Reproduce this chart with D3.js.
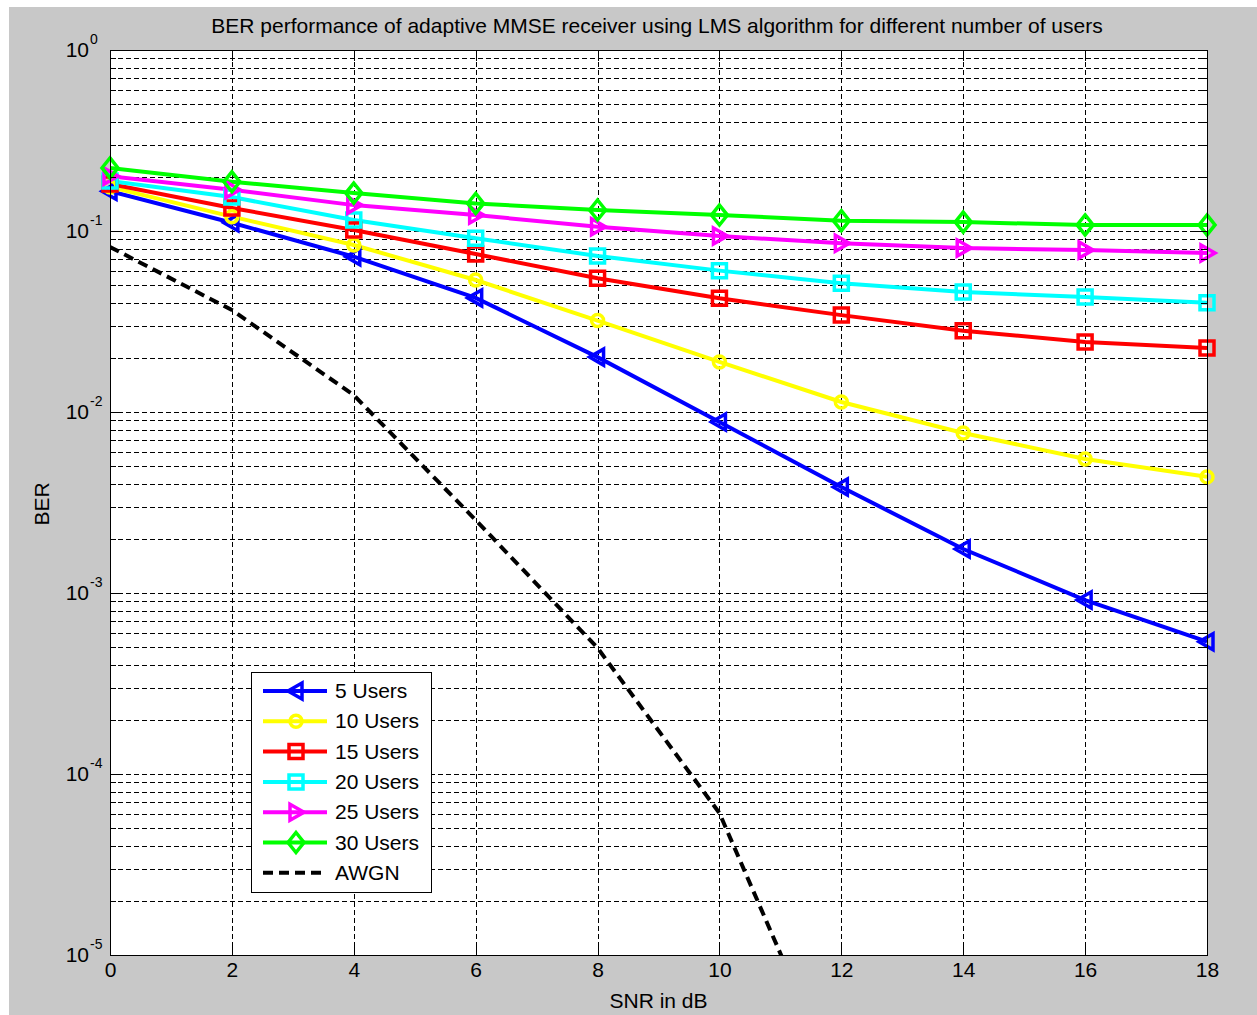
<!DOCTYPE html>
<html>
<head>
<meta charset="utf-8">
<script src="https://cdn.jsdelivr.net/npm/d3@7"></script>
<style>
body { margin:0; background:#ffffff; }
text { font-family:"Liberation Sans", Arial, sans-serif; fill:#000; }
.grid line { stroke:#000; stroke-width:1; stroke-dasharray:5,3; shape-rendering:crispEdges; }
.grid path { display:none; }
.ax path { display:none; }
.ax line { stroke:#000; stroke-width:1; shape-rendering:crispEdges; }
.ax text { font-size:21px; }
</style>
</head>
<body>
<svg></svg>
<script>
// SNR points (dB)
var snr = [0,2,4,6,8,10,12,14,16,18]
var awgnSnr = [0,2,4,6,8,10,12]

// BER
var users5  = [0.166,0.111,0.0721,0.0427,0.0201,0.0088,0.00385,0.00175,0.000914,0.000538]
var users10 = [0.175,0.120,0.0837,0.0536,0.0320,0.0189,0.01136,0.00766,0.0055,0.00438]
var users15 = [0.182,0.134,0.1014,0.0746,0.0548,0.0425,0.0343,0.0281,0.0244,0.0226]
var users20 = [0.189,0.154,0.115,0.0912,0.0728,0.0604,0.0514,0.046,0.0432,0.0402]
var users25 = [0.201,0.169,0.139,0.1225,0.1056,0.0938,0.0855,0.0805,0.0785,0.0756]
var users30 = [0.223,0.187,0.162,0.142,0.1306,0.1225,0.114,0.112,0.108,0.108]
var awgn    = [0.0816,0.0366,0.0124,0.00253,0.000497,0.0000608,0.00000171]

var seriesNames = ["5 Users","10 Users","15 Users","20 Users","25 Users","30 Users","AWGN"]
var xTicks = [0,2,4,6,8,10,12,14,16,18]
var yDecades = [1,0.1,0.01,0.001,0.0001,0.00001]
var yExponents = ["0","-1","-2","-3","-4","-5"]

var titleText = "BER performance of adaptive MMSE receiver using LMS algorithm for different number of users"

// styles kept apart from the data
var colors = ["#0000ff","#ffff00","#ff0000","#00ffff","#ff00ff","#00ff00","#000000"]
var markers = ["tleft","circle","square","square","tright","diamond",null]

var markerPath = function(kind)
{
    if(kind=="square") return "M-7,-7H7V7H-7Z"
    if(kind=="tleft") return "M-8,0L6,-8L6,8Z"
    if(kind=="tright") return "M8,0L-6,-8L-6,8Z"
    if(kind=="diamond") return "M0,-10L8,0L0,10L-8,0Z"
    return null
}

var drawMarker = function(g,kind,color,x,y)
{
    if(kind=="circle")
    {
        g.append("circle")
        .attr("cx",x).attr("cy",y).attr("r",6)
        .attr("fill","none").attr("stroke",color).attr("stroke-width",3.5)
    }
    else
    {
        g.append("path")
        .attr("d",markerPath(kind))
        .attr("transform","translate("+x+","+y+")")
        .attr("fill","none").attr("stroke",color).attr("stroke-width",3.5)
        .attr("stroke-linejoin","miter")
    }
}

var initGraph = function()
{
    var screen = {width:1257,height:1015}
    var plot = {left:110,right:1207,top:50,bottom:955}
    var width = plot.right-plot.left
    var height = plot.bottom-plot.top

    var svg = d3.select("svg")
    .attr("width",screen.width)
    .attr("height",screen.height)

    // figure background
    svg.append("rect")
    .attr("x",9).attr("y",7)
    .attr("width",screen.width-9).attr("height",screen.height-7)
    .attr("fill","#c8c8c8")

    svg.append("rect")
    .attr("x",plot.left).attr("y",plot.top)
    .attr("width",width).attr("height",height)
    .attr("fill","#ffffff")

    var xScale = d3.scaleLinear()
        .domain([0,18])
        .range([plot.left,plot.right])

    var yScale = d3.scaleLog()
        .domain([1e-5,1])
        .range([plot.bottom,plot.top])

    // minor values of the log axis
    var yMinor = []
    for(var e=-5;e<0;e++)
        for(var m=2;m<=9;m++)
            yMinor.push(m*Math.pow(10,e))

    // grid
    svg.append("g")
    .classed("grid",true)
    .attr("transform","translate("+plot.left+",0)")
    .call(d3.axisLeft(yScale).tickValues(yDecades.concat(yMinor)).tickSize(-width).tickFormat(""))

    svg.append("g")
    .classed("grid",true)
    .attr("transform","translate(0,"+plot.bottom+")")
    .call(d3.axisBottom(xScale).tickValues(xTicks).tickSize(-height).tickFormat(""))

    svg.append("clipPath")
    .attr("id","clip")
    .append("rect")
    .attr("x",plot.left).attr("y",plot.top)
    .attr("width",width).attr("height",height)

    var allSeries = [users5,users10,users15,users20,users25,users30,awgn]
    var line = d3.line()

    var lines = svg.append("g").attr("clip-path","url(#clip)")
    allSeries.forEach(function(vals,i)
    {
        var xs = (i==6) ? awgnSnr : snr
        var pts = vals.map(function(v,j){ return [xScale(xs[j]),yScale(v)] })
        lines.append("path")
        .attr("d",line(pts))
        .attr("fill","none")
        .attr("stroke",colors[i])
        .attr("stroke-width",4)
        .attr("stroke-dasharray",i==6 ? "10,6" : null)
    })

    var marks = svg.append("g")
    allSeries.forEach(function(vals,i)
    {
        if(!markers[i]) return
        vals.forEach(function(v,j)
        {
            drawMarker(marks,markers[i],colors[i],xScale(snr[j]),yScale(v))
        })
    })

    // axes box and ticks (pointing inward)
    svg.append("g").classed("ax",true)
    .attr("transform","translate(0,"+plot.bottom+")")
    .call(d3.axisBottom(xScale).tickValues(xTicks).tickSizeInner(-11).tickSizeOuter(0).tickPadding(7).tickFormat(d3.format("d")))

    svg.append("g").classed("ax",true)
    .attr("transform","translate(0,"+plot.top+")")
    .call(d3.axisTop(xScale).tickValues(xTicks).tickSizeInner(-11).tickSizeOuter(0).tickFormat(""))

    svg.append("g").classed("ax",true)
    .attr("transform","translate("+plot.left+",0)")
    .call(d3.axisLeft(yScale).tickValues(yDecades).tickSizeInner(-13).tickSizeOuter(0).tickFormat(""))

    svg.append("g").classed("ax",true)
    .attr("transform","translate("+plot.left+",0)")
    .call(d3.axisLeft(yScale).tickValues(yMinor).tickSizeInner(-6).tickSizeOuter(0).tickFormat(""))

    svg.append("g").classed("ax",true)
    .attr("transform","translate("+plot.right+",0)")
    .call(d3.axisRight(yScale).tickValues(yDecades).tickSizeInner(-13).tickSizeOuter(0).tickFormat(""))

    svg.append("g").classed("ax",true)
    .attr("transform","translate("+plot.right+",0)")
    .call(d3.axisRight(yScale).tickValues(yMinor).tickSizeInner(-6).tickSizeOuter(0).tickFormat(""))

    svg.append("rect")
    .attr("x",plot.left+0.5).attr("y",plot.top+0.5)
    .attr("width",width).attr("height",height)
    .attr("fill","none").attr("stroke","#000").attr("stroke-width",1)

    // y tick labels 10^n
    var ylab = svg.append("g")
    yDecades.forEach(function(d,i)
    {
        ylab.append("text")
        .text("10")
        .attr("text-anchor","end")
        .attr("x",89)
        .attr("y",yScale(d)+7)
        .style("font-size","21px")
        ylab.append("text")
        .text(yExponents[i])
        .attr("x",90)
        .attr("y",yScale(d)-6)
        .style("font-size","14px")
    })

    drawLabels(svg,plot,titleText)
    drawLegend(svg)
}

var drawLabels = function(svg,plot,title)
{
    var labels = svg.append("g")

    labels.append("text")
    .text(title)
    .attr("text-anchor","middle")
    .attr("x",657)
    .attr("y",33)
    .style("font-size","21px")

    labels.append("text")
    .text("SNR in dB")
    .attr("text-anchor","middle")
    .attr("x",(plot.left+plot.right)/2)
    .attr("y",1008)
    .style("font-size","21px")

    labels.append("text")
    .text("BER")
    .attr("text-anchor","middle")
    .attr("transform","translate(49,504) rotate(-90)")
    .style("font-size","21px")
}

var drawLegend = function(svg)
{
    var box = {x:251,y:672,width:180,height:220}
    var leg = svg.append("g")

    leg.append("rect")
    .attr("x",box.x+0.5).attr("y",box.y+0.5)
    .attr("width",box.width).attr("height",box.height)
    .attr("fill","#ffffff").attr("stroke","#000").attr("stroke-width",1)

    seriesNames.forEach(function(name,i)
    {
        var y = 691 + i*30.3
        leg.append("line")
        .attr("x1",263).attr("x2",327)
        .attr("y1",y).attr("y2",y)
        .attr("stroke",colors[i])
        .attr("stroke-width",4)
        .attr("stroke-dasharray",i==6 ? "10,6" : null)
        if(markers[i]) drawMarker(leg,markers[i],colors[i],296,y)
        leg.append("text")
        .text(name)
        .attr("x",335)
        .attr("y",y+7)
        .style("font-size","21px")
    })
}

initGraph()
</script>
</body>
</html>
